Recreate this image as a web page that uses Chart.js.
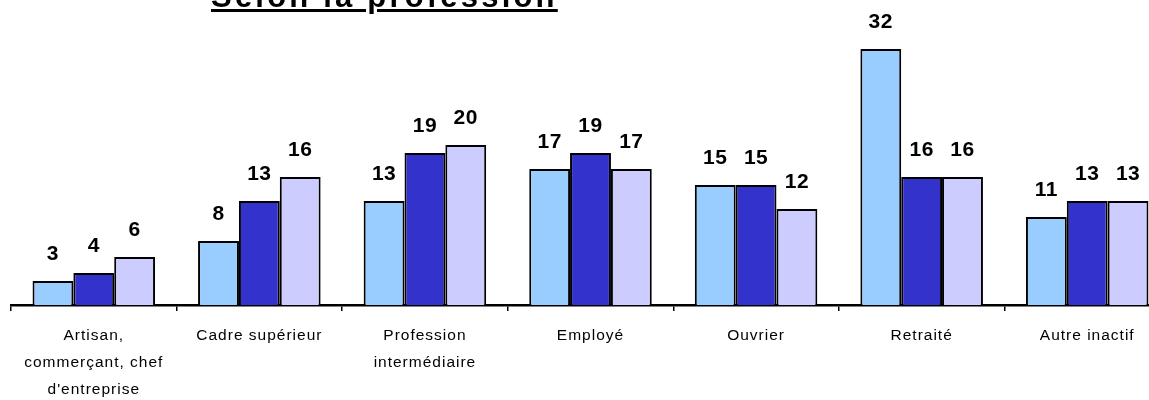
<!DOCTYPE html>
<html>
<head>
<meta charset="utf-8">
<script src="https://cdn.jsdelivr.net/npm/chart.js@4"></script>
<style>
  html, body { margin: 0; padding: 0; background: #fff; overflow: hidden; }
  #wrap { position: relative; width: 1170px; height: 400px; }
  #title {
    position: absolute; left: 211px; top: -19px;
    font: bold 31px "Liberation Sans", Arial, sans-serif; line-height: 31px;
    letter-spacing: 3.2px; text-decoration: underline; text-decoration-thickness: 3px;
    text-underline-offset: 2px;
    white-space: nowrap; color: #000;
  }
</style>
</head>
<body>
<div id="wrap">
  <div id="title">Selon la profession</div>
  <canvas id="chart"></canvas>
</div>
<script>
const categories = [
    ['Artisan,', 'commerçant, chef', "d'entreprise"],
    'Cadre supérieur',
    ['Profession', 'intermédiaire'],
    'Employé',
    'Ouvrier',
    'Retraité',
    'Autre inactif'
];
const serie1 = [3, 8, 13, 17, 15, 32, 11];
const serie2 = [4, 13, 19, 19, 15, 16, 13];
const serie3 = [6, 16, 20, 17, 12, 16, 13];

// spaced-out axis text like the original export
const letterSpacing = {
    id: 'letterSpacing',
    beforeDraw(chart) {
        chart.ctx.letterSpacing = '1px';
    }
};

// draw the values above each bar
const valueLabels = {
    id: 'valueLabels',
    afterDatasetsDraw(chart) {
        const ctx = chart.ctx;
        ctx.save();
        ctx.letterSpacing = '0.5px';
        ctx.font = 'bold 21px "Liberation Sans", Arial, sans-serif';
        ctx.fillStyle = '#000';
        ctx.textAlign = 'center';
        ctx.textBaseline = 'middle';
        chart.data.datasets.forEach((ds, i) => {
            chart.getDatasetMeta(i).data.forEach((bar, j) => {
                ctx.fillText(ds.data[j], bar.x, bar.y - 27);
            });
        });
        ctx.restore();
    }
};

new Chart(document.getElementById('chart'), {
    type: 'bar',
    data: {
        labels: categories,
        datasets: [{
                data: serie1,
                backgroundColor: '#99CCFF',
                borderColor: '#000',
                borderWidth: 2
            },
            {
                data: serie2,
                backgroundColor: '#3333CC',
                borderColor: '#000',
                borderWidth: 2
            },
            {
                data: serie3,
                backgroundColor: '#CCCCFF',
                borderColor: '#000',
                borderWidth: 2
            }
        ]
    },
    options: {
        responsive: true,
        maintainAspectRatio: false,
        animation: false,
        datasets: {
            bar: { categoryPercentage: 0.74, barPercentage: 1 }
        },
        layout: { padding: { left: 11, top: 25, right: 0 } },
        plugins: {
            legend: { display: false },
            tooltip: { enabled: false }
        },
        scales: {
            x: {
                afterFit(scale) { scale.height = 95; },
                grid: {
                    offset: true,
                    drawOnChartArea: false,
                    tickLength: 6,
                    color: '#000',
                    lineWidth: 1.5
                },
                border: { display: true, color: '#000', width: 2.5 },
                ticks: {
                    color: '#000',
                    autoSkip: false,
                    maxRotation: 0,
                    padding: 11,
                    font: { family: '"Liberation Sans", Arial, sans-serif', size: 15.5, lineHeight: 1.75 }
                }
            },
            y: {
                display: false,
                min: 0,
                max: 35
            }
        }
    },
    plugins: [letterSpacing, valueLabels]
});
</script>
</body>
</html>
